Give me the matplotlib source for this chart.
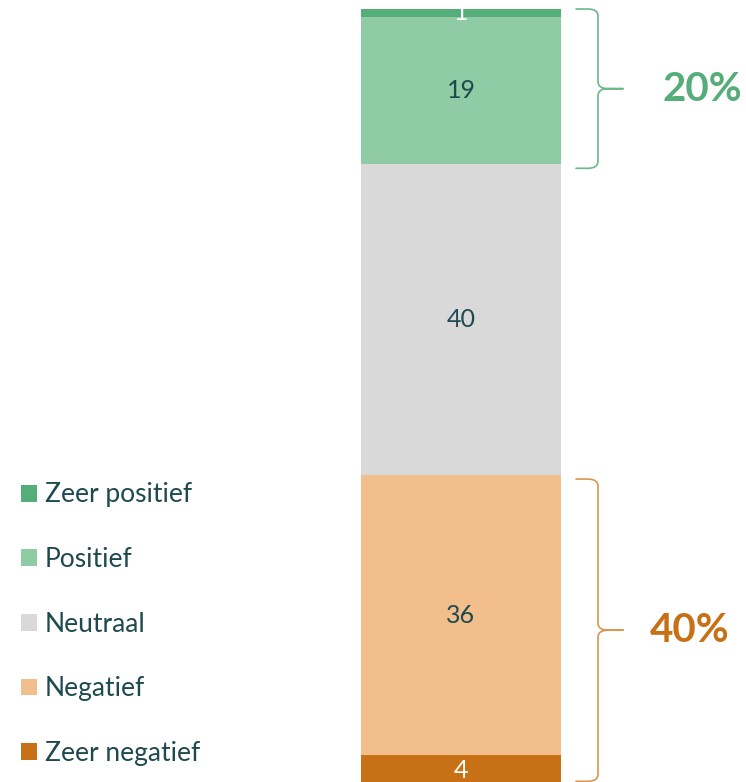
import numpy as np
import matplotlib.pyplot as plt
from matplotlib.patches import Patch, PathPatch
from matplotlib.path import Path

plt.rcParams['font.family'] = ['Lato', 'DejaVu Sans']

# data, bottom to top
categories = ['Zeer negatief', 'Negatief', 'Neutraal', 'Positief', 'Zeer positief']
values = [4, 36, 40, 19, 1]
colors = ['#C87016', '#F2BF8C', '#D9D9D9', '#8FCBA5', '#55AD7A']
label_colors = ['white', '#1E4A4F', '#1E4A4F', '#1E4A4F', 'white']

neg_total = 40
pos_total = 20
neg_color = '#C87016'
pos_color = '#55AD7A'
neg_brace = '#D9974F'
pos_brace = '#6BB98A'
text_color = '#1E4A4F'


def brace(ax, y0, y1, color):
    # curly brace on the right side of the bar
    x0, xm, xt = 0.575, 0.685, 0.81
    rx, ry = 0.05, 0.9
    ym = (y0 + y1) / 2
    verts = [(x0, y1), (xm - rx, y1), (xm, y1), (xm, y1 - ry),
             (xm, ym + ry), (xm, ym), (xm + rx, ym), (xt, ym),
             (xm + rx, ym), (xm, ym), (xm, ym - ry),
             (xm, y0 + ry), (xm, y0), (xm - rx, y0), (x0, y0)]
    codes = [Path.MOVETO, Path.LINETO, Path.CURVE3, Path.CURVE3,
             Path.LINETO, Path.CURVE3, Path.CURVE3, Path.LINETO,
             Path.LINETO, Path.CURVE3, Path.CURVE3,
             Path.LINETO, Path.CURVE3, Path.CURVE3, Path.LINETO]
    ax.add_patch(PathPatch(Path(verts, codes), fill=False, edgecolor=color,
                           lw=1.2, capstyle='round', joinstyle='round'))


fig = plt.figure(figsize=(7.46, 7.82), dpi=100)
ax = fig.add_axes([0, 0, 1, 1])
ax.set_xlim(-2.305, 1.425)
ax.set_ylim(0.51, 101.16)
ax.axis('off')

bottoms = np.concatenate([[0], np.cumsum(values)[:-1]])
for v, b, c, lc in zip(values, bottoms, colors, label_colors):
    ax.bar(0, v, bottom=b, width=1.0, color=c, linewidth=0)
    ax.text(0, b + v / 2, str(v), ha='center', va='center', fontsize=18,
            color=lc, fontweight='normal')

brace(ax, 100 - pos_total - 0.5, 100, pos_brace)
brace(ax, 0.6, neg_total - 0.5, neg_brace)

ax.text(1.205, 100 - pos_total / 2 - 0.3, f'{pos_total}%', ha='center',
        va='center', fontsize=29, color=pos_color, fontweight='bold')
ax.text(1.145, neg_total / 2, f'{neg_total}%', ha='center', va='center',
        fontsize=29, color=neg_color, fontweight='bold')

handles = [Patch(facecolor=c, edgecolor='none') for c in colors[::-1]]
leg = fig.legend(handles, categories[::-1], loc='upper left',
                 bbox_to_anchor=(0.028, 0.383), frameon=False, fontsize=19,
                 handlelength=0.6, handleheight=0.6, handletextpad=0.3,
                 labelspacing=1.5, borderaxespad=0, borderpad=0)
for t in leg.get_texts():
    t.set_color(text_color)

fig.savefig('out.png', dpi=100)
